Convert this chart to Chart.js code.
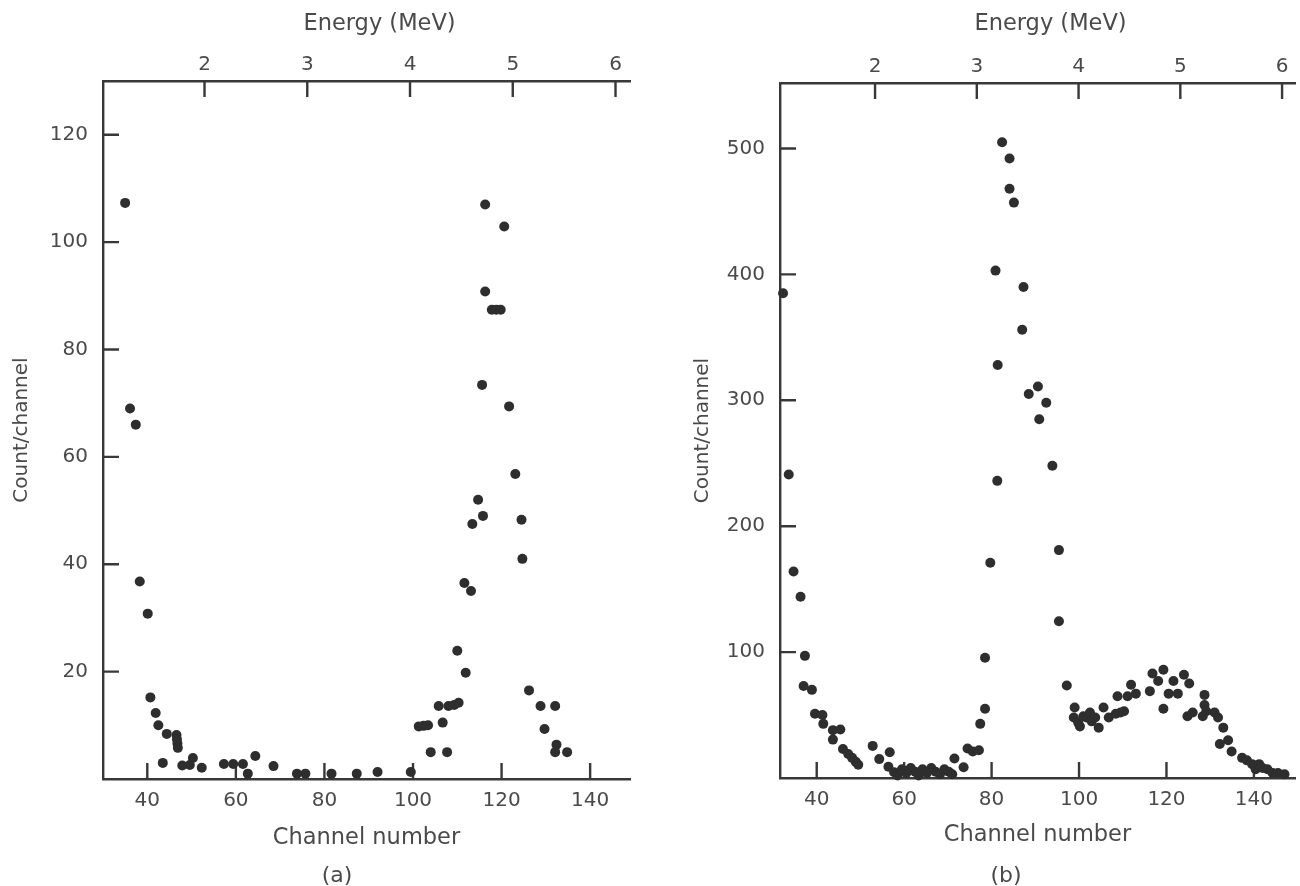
<!DOCTYPE html>
<html><head><meta charset="utf-8">
<script src="https://cdn.jsdelivr.net/npm/chart.js@4.4.1/dist/chart.umd.min.js"></script>
<style>
html,body{margin:0;padding:0;background:#fff;width:1300px;height:886px;overflow:hidden;}
#wa{position:absolute;left:0;top:0;width:650px;height:886px;}
#wb{position:absolute;left:650px;top:0;width:650px;height:886px;}
.cap{position:absolute;width:100px;text-align:center;font-family:"DejaVu Sans";font-size:22px;color:#4a4a4a;line-height:26px;top:862px;}
</style></head><body>
<div id="wa"><canvas id="ca" width="650" height="886"></canvas></div>
<div id="wb"><canvas id="cb" width="650" height="886"></canvas></div>
<div class="cap" style="left:287px">(a)</div>
<div class="cap" style="left:956px">(b)</div>
<script>
const channelTicks = [40, 60, 80, 100, 120, 140];
const energyTicks = [2, 3, 4, 5, 6];
const countTicksA = [20, 40, 60, 80, 100, 120];
const countTicksB = [100, 200, 300, 400, 500];

const channelsA = [35.0, 36.1, 37.4, 38.3, 40.1, 40.7, 41.9, 42.5, 43.5, 44.4, 46.6, 46.7, 46.8, 46.9, 47.9, 49.6, 50.3, 52.3,
  57.3, 59.4, 61.6, 62.7, 64.4, 68.5, 73.8, 75.7, 81.6, 87.3, 92.0, 99.5,
  101.3, 102.4, 103.4, 104.0, 105.8, 106.7, 107.7, 108.0, 109.3, 110.3, 110.0, 111.6, 111.9, 113.1, 113.4, 114.7, 115.6, 115.8,
  116.3, 116.3, 117.8, 118.8, 119.8, 120.6, 121.7, 123.1, 124.5, 124.7, 126.2, 128.8, 129.7, 132.1, 132.4, 132.1, 134.8];
const countsA = [107.3, 69.0, 66.0, 36.8, 30.8, 15.2, 12.3, 10.0, 3.0, 8.4, 8.2, 7.4, 6.6, 5.8, 2.5, 2.6, 3.9, 2.1,
  2.8, 2.8, 2.8, 1.0, 4.3, 2.4, 1.0, 1.0, 1.0, 1.0, 1.3, 1.3,
  9.8, 9.9, 10.0, 5.0, 13.6, 10.5, 5.0, 13.6, 13.8, 14.2, 23.9, 36.5, 19.8, 35.0, 47.5, 52.0, 73.4, 49.0,
  107.0, 90.8, 87.4, 87.4, 87.4, 102.9, 69.4, 56.8, 48.3, 41.0, 16.5, 13.6, 9.3, 13.6, 6.4, 5.0, 5.0];

const channelsB = [32.3, 33.6, 34.7, 36.3, 37.3, 37.0, 38.9, 39.6, 41.3, 41.5, 43.7, 45.4, 43.7, 46.0, 47.2, 48.1, 48.9, 49.5,
  52.8, 54.3, 56.7, 56.4, 57.7,
  58.5, 59.5, 60.5, 61.5, 62.5, 63.3, 64.2, 65.2, 66.2, 67.2, 68.2, 69.2, 70.2, 71.0,
  71.5, 73.6, 74.5, 75.7, 77.1, 77.4, 78.5, 78.5, 79.7, 81.3, 81.4, 80.9, 82.4, 84.1, 84.1, 85.1, 87.3, 87.0,
  88.5, 90.6, 90.9, 92.5, 93.9, 95.4, 95.4, 97.2,
  98.8, 99.0, 99.8, 100.2, 101.0, 101.7, 102.5, 102.9, 103.7, 104.5, 105.6, 106.8, 108.4, 109.5, 110.3, 108.8, 111.1, 111.9, 113.0,
  116.2, 116.8, 118.1, 119.3, 119.3, 120.5, 121.6, 122.6, 124.0, 125.2, 124.8, 126.0, 128.3, 128.7, 128.7, 129.1,
  131.0, 131.8, 133.0, 132.2, 134.1, 134.9, 137.3, 138.4, 139.6, 140.4, 141.2, 142.0, 143.1, 144.3, 145.5, 147.0];
const countsB = [385, 241, 164, 144, 97, 73, 70, 51, 50, 43, 38, 38.5, 30.5, 23, 19, 16, 13, 10.5,
  25.5, 15, 20.5, 9, 4.5,
  2, 7, 4, 8, 5, 2, 7, 4, 8, 5, 3, 7, 5, 3,
  15.5, 8.5, 23.5, 21, 22, 43, 55, 95.5, 171, 236, 328, 403, 505, 492, 468, 457, 390, 356,
  305, 311, 285, 298, 248, 181, 124.5, 73.5,
  48, 56, 44, 41, 49, 48, 52, 45, 48, 40, 56, 48, 51, 52, 53, 65, 65, 74, 67,
  69, 83, 77, 86, 55, 67, 77, 67, 82, 75, 49, 52, 49, 66, 58, 53,
  52, 48, 40, 27, 30, 21, 16, 14, 11, 7, 11, 8, 7, 4, 4, 3];

const FONT = 'DejaVu Sans';
const TEXT = '#4a4a4a';
const AXIS = '#383838';
const DOT = '#2e2e2e';
const TICK_LEN = 16;

const inwardTicks = {
  id: 'inwardTicks',
  beforeDatasetsDraw(chart) {
    const ctx = chart.ctx, a = chart.chartArea;
    ctx.save();
    ctx.strokeStyle = AXIS; ctx.lineWidth = 2.4;
    ctx.beginPath();
    chart.scales.x.ticks.forEach(t => { const p = chart.scales.x.getPixelForValue(t.value); ctx.moveTo(p, a.bottom); ctx.lineTo(p, a.bottom - TICK_LEN); });
    chart.scales.x2.ticks.forEach(t => { const p = chart.scales.x2.getPixelForValue(t.value); ctx.moveTo(p, a.top); ctx.lineTo(p, a.top + TICK_LEN); });
    chart.scales.y.ticks.forEach(t => { const p = chart.scales.y.getPixelForValue(t.value); ctx.moveTo(a.left, p); ctx.lineTo(a.left + TICK_LEN, p); });
    ctx.stroke();
    ctx.restore();
  }
};

const energyTitle = {
  id: 'energyTitle',
  afterDraw(chart, args, opts) {
    const ctx = chart.ctx, a = chart.chartArea;
    ctx.save();
    ctx.font = '22.5px "' + FONT + '"';
    ctx.fillStyle = TEXT; ctx.textAlign = 'center'; ctx.textBaseline = 'middle';
    ctx.fillText('Energy (MeV)', (a.left + a.right) / 2 + opts.dx, opts.y);
    ctx.restore();
  }
};

function makeChart(id, channels, counts, yTicks, cfg) {
  const pts = channels.map((c, i) => ({x: c, y: counts[i]}));
  return new Chart(document.getElementById(id), {
    type: 'scatter',
    data: {datasets: [{data: pts, backgroundColor: DOT, borderWidth: 0, pointRadius: 5, pointHoverRadius: 5, clip: false}]},
    plugins: [inwardTicks, energyTitle],
    options: {
      responsive: false, animation: false, devicePixelRatio: 1,
      layout: {padding: {left: 0, right: cfg.padRight, top: 0, bottom: 0}},
      plugins: {legend: {display: false}, tooltip: {enabled: false}, energyTitle: {dx: 13, y: 24}},
      scales: {
        x: {
          type: 'linear', position: 'bottom', min: cfg.xMin, max: cfg.xMax,
          afterBuildTicks: s => { s.ticks = channelTicks.map(v => ({value: v})); },
          afterFit: s => { s.height = cfg.bottomH; },
          grid: {display: false, drawTicks: false},
          border: {display: true, color: AXIS, width: 2.4},
          ticks: {color: TEXT, font: {family: FONT, size: 20}, padding: 10, maxRotation: 0, autoSkip: false},
          title: {display: true, text: 'Channel number', color: TEXT, font: {family: FONT, size: 22.5}, padding: {top: 0, bottom: cfg.titlePadB}}
        },
        x2: {
          type: 'linear', position: 'top', min: cfg.eMin, max: cfg.eMax,
          afterBuildTicks: s => { s.ticks = energyTicks.map(v => ({value: v})); },
          afterFit: s => { s.height = cfg.topH; },
          grid: {display: false, drawTicks: false},
          border: {display: true, color: AXIS, width: 2.4},
          ticks: {color: TEXT, font: {family: FONT, size: 20}, padding: 4, maxRotation: 0, autoSkip: false}
        },
        y: {
          type: 'linear', position: 'left', min: 0, max: cfg.yMax,
          afterBuildTicks: s => { s.ticks = yTicks.map(v => ({value: v})); },
          afterFit: s => { s.width = cfg.leftW; },
          grid: {display: false, drawTicks: false},
          border: {display: true, color: AXIS, width: 2.4},
          ticks: {color: TEXT, font: {family: FONT, size: 20}, padding: 15, autoSkip: false},
          title: {display: true, text: 'Count/channel', color: TEXT, font: {family: FONT, size: 20}, padding: {top: cfg.yTitlePad, bottom: 0}}
        }
      }
    }
  });
}

makeChart('ca', channelsA, countsA, countTicksA,
  {xMin: 30, xMax: 149, eMin: 1.012, eMax: 6.141, yMax: 130, leftW: 103, padRight: 20, topH: 81, bottomH: 107, titlePadB: 34.5, yTitlePad: 10});
makeChart('cb', channelsB, countsB, countTicksB,
  {xMin: 31.6, xMax: 149.4, eMin: 1.066, eMax: 6.127, yMax: 552, leftW: 130, padRight: 0, topH: 83, bottomH: 108, titlePadB: 37.5, yTitlePad: 41});
</script>
</body></html>
